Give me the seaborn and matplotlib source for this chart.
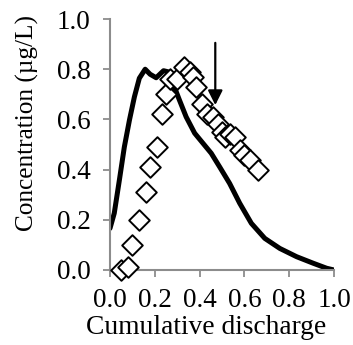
import matplotlib
matplotlib.use("Agg")
import matplotlib.pyplot as plt
import seaborn as sns
import pandas as pd

# Simulated concentration curve vs cumulative discharge
line_x = [0.0, 0.019, 0.042, 0.064, 0.087, 0.109, 0.131, 0.157, 0.179, 0.206,
          0.239, 0.258, 0.281, 0.31, 0.34, 0.378, 0.415, 0.452, 0.49, 0.534,
          0.579, 0.631, 0.691, 0.758, 0.833, 0.907, 0.967, 1.0]
line_y = [0.166, 0.226, 0.359, 0.49, 0.598, 0.69, 0.764, 0.80, 0.78, 0.766,
          0.794, 0.79, 0.744, 0.677, 0.61, 0.545, 0.505, 0.465, 0.41, 0.345,
          0.266, 0.186, 0.126, 0.086, 0.053, 0.027, 0.007, 0.0]

# Observed concentrations
obs_x = [0.05, 0.08, 0.10, 0.13, 0.16, 0.18, 0.21, 0.23, 0.25, 0.27, 0.30,
         0.33, 0.355, 0.37, 0.385, 0.41, 0.435, 0.46, 0.48, 0.50, 0.515,
         0.535, 0.56, 0.58, 0.60, 0.625, 0.66]
obs_y = [0.0, 0.01, 0.10, 0.20, 0.31, 0.41, 0.49, 0.62, 0.70, 0.76, 0.76,
         0.81, 0.79, 0.77, 0.73, 0.66, 0.62, 0.61, 0.58, 0.55, 0.53,
         0.54, 0.53, 0.48, 0.46, 0.44, 0.40]

# Arrow marking the sampling point
arrow_x = 0.47
arrow_y_start = 0.905
arrow_y_end = 0.657

x_ticks = [0.0, 0.2, 0.4, 0.6, 0.8, 1.0]
y_ticks = [0.0, 0.2, 0.4, 0.6, 0.8, 1.0]
x_label = "Cumulative discharge"
y_label = "Concentration (\u00b5g/L)"

sns.set_theme(style="white")
plt.rcParams["font.family"] = ["Liberation Serif", "DejaVu Serif"]

fig = plt.figure(figsize=(3.53, 3.45), dpi=100)
ax = fig.add_axes([0.3116, 0.2174, 0.6346, 0.7275])

line_df = pd.DataFrame({"x": line_x, "y": line_y})
obs_df = pd.DataFrame({"x": obs_x, "y": obs_y})

sns.lineplot(data=line_df, x="x", y="y", ax=ax, color="black", lw=3.6,
             sort=False, zorder=2)
sns.scatterplot(data=obs_df, x="x", y="y", ax=ax, marker="D", s=110,
                facecolor="white", edgecolor="black", linewidth=1.4,
                zorder=3, clip_on=False)

ax.annotate("", xy=(arrow_x, arrow_y_end), xytext=(arrow_x, arrow_y_start),
            arrowprops=dict(arrowstyle="-|>", color="black", lw=1.6,
                            mutation_scale=22, shrinkA=0, shrinkB=0))

ax.set_xlim(0, 1.0)
ax.set_ylim(0, 1.0)
ax.set_xticks(x_ticks)
ax.set_yticks(y_ticks)
ax.set_xticklabels([f"{v:.1f}" for v in x_ticks])
ax.set_yticklabels([f"{v:.1f}" for v in y_ticks])
ax.set_xlabel(x_label, fontsize=19.8, color="black")
ax.set_ylabel(y_label, fontsize=18.2, color="black")
ax.xaxis.set_label_coords(0.43, -0.18)
ax.yaxis.set_label_coords(-0.318, 0.585)

for side in ["top", "right"]:
    ax.spines[side].set_visible(False)
for side in ["left", "bottom"]:
    ax.spines[side].set_color("#8c8c8c")
    ax.spines[side].set_linewidth(1.5)
ax.tick_params(axis="both", which="major", direction="out", length=5,
               width=1.3, color="#8c8c8c", labelsize=19.5, labelcolor="black",
               bottom=True, left=True)
ax.tick_params(axis="y", pad=9)
ax.tick_params(axis="x", pad=8)

fig.savefig("out.png", dpi=100)
